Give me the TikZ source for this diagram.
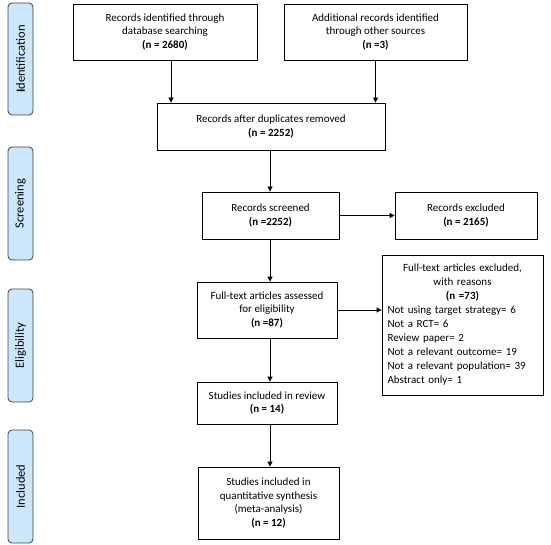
\documentclass[tikz,border=0pt]{standalone}
\usepackage{fontspec}
\setmainfont{Carlito}
\usetikzlibrary{arrows.meta,positioning}
\definecolor{sidefill}{RGB}{204,230,251}
\definecolor{sideline}{RGB}{64,64,64}
\tikzset{
  box/.style={draw=black, line width=0.8pt, align=center, inner sep=3pt,
    font=\fontsize{11}{13.5}\selectfont},
  side/.style={draw=sideline, fill=sidefill, line width=0.8pt, rounded corners=4pt,
    rotate=90, minimum height=25pt, inner sep=2pt,
    font=\fontsize{12.5}{14}\selectfont},
  arr/.style={line width=0.8pt, -{Triangle[length=5pt,width=5pt]}}
}
\begin{document}
\begin{tikzpicture}[x=1pt,y=-1pt]
\useasboundingbox (0,0) rectangle (551,545);
% side labels
\node[side, minimum width=112pt] (sid) at (20.5,59) {\textbf{I}dentification};
\node[side, minimum width=113pt] (sscr) at (20.5,203.5) {Screening};
\node[side, minimum width=113pt] (selig) at (20.5,345.5) {Eligibility};
\node[side, minimum width=113pt] (sinc) at (20.5,486.5) {Included};
% boxes
\node[box, minimum width=184pt, minimum height=56pt] (b1) at (165,32)
  {Records identified through\\database searching\\\textbf{(n = 2680)}};
\node[box, minimum width=183pt, minimum height=56pt] (b2) at (375.5,32)
  {Additional records identified\\through other sources\\\textbf{(n =3)}};
\node[box, minimum width=228pt, minimum height=47pt] (b3) at (271,126.5)
  {Records after duplicates removed\\\textbf{(n = 2252)}};
\node[box, minimum width=137pt, minimum height=47pt] (b4) at (270.5,215.5)
  {Records screened\\\textbf{(n =2252)}};
\node[box, minimum width=142pt, minimum height=47pt] (ex1) at (466,215.5)
  {Records excluded\\\textbf{(n = 2165)}};
\node[box, minimum width=140pt, minimum height=56pt] (b5) at (267,310)
  {Full-text articles assessed\\for eligibility\\\textbf{(n =87)}};
\node[box, minimum width=161pt, minimum height=140pt, text width=150pt, inner xsep=5.5pt, inner ysep=6pt,
  font=\fontsize{11}{14}\selectfont] (ex2) at (462.5,325)
  {Full-text articles excluded,\\with reasons\\\textbf{(n =73)}\par
   \raggedright Not using target strategy= 6\\Not a RCT= 6\\Review paper= 2\\Not a relevant outcome= 19\\Not a relevant population= 39\\Abstract only= 1\par};
\node[box, minimum width=140pt, minimum height=42pt] (b6) at (267,403)
  {Studies included in review\\\textbf{(n = 14)}};
\node[box, minimum width=141pt, minimum height=72pt] (b7) at (268.5,503)
  {Studies included in\\quantitative synthesis\\(meta-analysis)\\\textbf{(n = 12)}};
% connectors
\coordinate (c1) at ([xshift=6pt]b1.south);
\draw[arr] (c1) -- (c1 |- b3.north);
\draw[arr] (b2.south) -- (b2.south |- b3.north);
\coordinate (col) at ([xshift=-0.5pt]b4.south);
\draw[arr] (col |- b3.south) -- (col |- b4.north);
\draw[arr] (b4.east) -- (b4.east -| ex1.west);
\draw[arr] (col |- b4.south) -- (col |- b5.north);
\draw[arr] (b5.east) -- (b5.east -| ex2.west);
\draw[arr] (col |- b5.south) -- (col |- b6.north);
\draw[arr] (col |- b6.south) -- (col |- b7.north);
\end{tikzpicture}
\end{document}
